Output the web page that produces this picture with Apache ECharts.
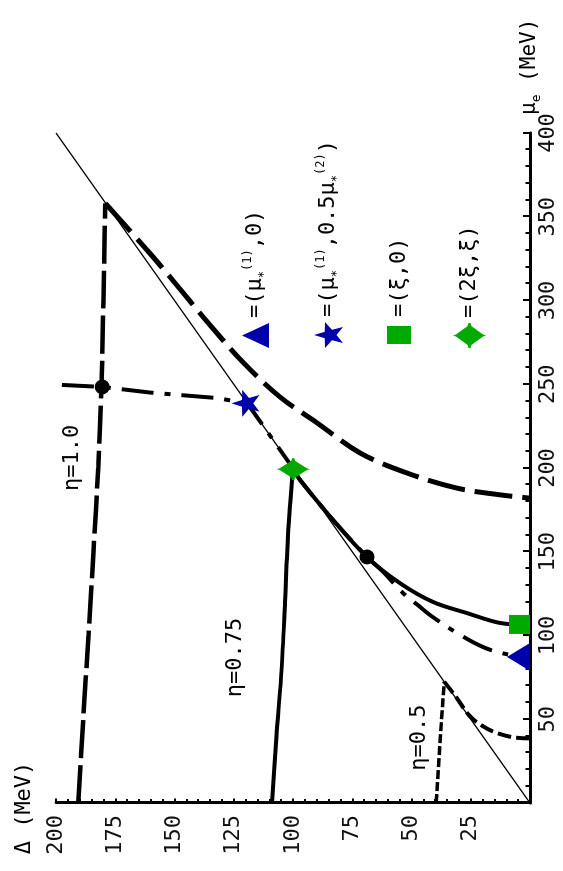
<!DOCTYPE html>
<html>
<head>
<meta charset="utf-8">
<script src="https://cdn.jsdelivr.net/npm/echarts/dist/echarts.min.js"></script>
<style>
html,body{margin:0;padding:0;background:#fff;overflow:hidden;width:563px;height:871px;}
#wrap{position:absolute;left:0;top:0;width:871px;height:563px;transform-origin:0 0;transform:translate(0px,871px) rotate(-90deg);}
</style>
</head>
<body>
<div id="wrap"></div>
<script>
// ---- data (x = mu_e in MeV, y = Delta in MeV) ----
const diagonal = [[0,0],[400,200]];
const eta10Flat = [[0,190.6],[50,188.5],[100,186.3],[150,184.2],[200,182.2],[250,180.8],[300,180],[358,179.2]];
const eta10Curve = [[358,179.2],[330,161.5],[310,149.5],[287,136],[263,121],[242.4,105.5],[227,89.9],[209,71.7],[197,51.9],[188,30.8],[184,12.7],[182,0]];
const eta075Flat = [[0,108.9],[40,107],[80,104.8],[120,103.4],[160,102.1],[199.3,100]];
const eta075Curve = [[199.3,100],[192.8,97],[169,83.1],[146.9,68.8],[131.3,54.9],[120,40.9],[113.4,26.6],[107.5,12.7],[106.3,0]];
const dashDotStraight = [[249.6,197.5],[248.4,180.5],[245,160],[241.8,132.3],[238.6,119.3],[199.3,99.7]];
const dashDotCurve = [[199.3,99.7],[192.8,97],[169,83.1],[146.9,68.8],[138,62],[125.4,53.6],[118,47.2],[111,41],[101.5,30.8],[93.1,19.8],[89.2,11],[86.6,0]];
const eta05Flat = [[0,39.6],[36,38],[72.4,36.2]];
const eta05Curve = [[72.4,36.2],[63.5,31.3],[52.5,25.8],[47.6,21.8],[42.6,15.5],[39.2,7],[38.6,0]];
const triPts = [[87.2,0]];
const starPts = [[238.6,120]];
const squarePts = [[106.6,0]];
const diamondPts = [[199.3,99.9]];
const dotPts = [[248.4,180.5],[146.9,68.8]];
const muAxisRange = [0,400];
const deltaAxisRange = [0,200];
const legendNames = ['tri','star','square','diamond'];
const legendLabels = {
  tri: '{n|=(μ}{sub|*}{sup|(1)}{n|,0)}',
  star: '{n|=(μ}{sub|*}{sup|(1)}{n|,0.5μ}{sub|*}{sup|(2)}{n|)}',
  square: '{n|=(ξ,0)}',
  diamond: '{n|=(2ξ,ξ)}'
};
const etaLabels = ['η=1.0','η=0.75','η=0.5'];

// ---- chart ----
const FONT = 'DejaVu Sans Mono';
const BLUE = '#0000AA', GREEN = '#00AA00';
const STAR = 'path://M0,-10L2.35,-3.24L9.51,-3.09L3.8,1.24L5.88,8.09L0,4L-5.88,8.09L-3.8,1.24L-9.51,-3.09L-2.35,-3.24Z';
const DIAM = 'path://M12,0L13,3L21,14L24,15L24,17L21,18L13,29L12,32L11,29L3,18L0,17L0,15L3,14L11,3Z';
const SQR = 'path://M0,0H18V24H0Z';
const chart = echarts.init(document.getElementById('wrap'), null, {renderer:'canvas', width:871, height:563});

function lineS(data, width, type, smooth){
  return {type:'line', data:data, showSymbol:false, symbol:'none', smooth:smooth||false, silent:true,
    lineStyle:{color:'#000', width:width, type:type, cap:'butt', opacity:1}, z:3};
}
const richText = {
  n:{fontFamily:FONT, fontSize:22, color:'#000', lineHeight:28},
  sup:{fontFamily:FONT, fontSize:12, color:'#000', verticalAlign:'top', lineHeight:28},
  sub:{fontFamily:FONT, fontSize:12, color:'#000', verticalAlign:'bottom', lineHeight:28}
};
function legendFor(name, left, top, w, h, pad){
  return {show:true, orient:'vertical', left:left, top:top, itemWidth:w, itemHeight:h, padding:0,
    symbolKeepAspect:false, selectedMode:false, data:[name],
    itemStyle:{opacity:1},
    formatter: n => legendLabels[n],
    textStyle:{fontFamily:FONT, fontSize:22, color:'#000', padding:[0,0,0,pad||0], rich:richText}};
}

const option = {
  animation:false,
  backgroundColor:'#fff',
  grid:{left:68, right:133, top:56, bottom:33, outerBoundsMode:'none', containLabel:false},
  xAxis:{type:'value', min:muAxisRange[0], max:muAxisRange[1], interval:50,
    axisLine:{show:true, onZero:false, lineStyle:{color:'#000', width:3}},
    axisTick:{show:true, inside:true, length:7, lineStyle:{color:'#000', width:2}},
    minorTick:{show:true, splitNumber:5, length:4.5, lineStyle:{color:'#000', width:2}},
    splitLine:{show:false}, minorSplitLine:{show:false},
    axisLabel:{showMinLabel:false, color:'#111', fontFamily:FONT, fontSize:22, margin:7}},
  yAxis:{type:'value', min:deltaAxisRange[0], max:deltaAxisRange[1], interval:25,
    axisLine:{show:true, onZero:false, lineStyle:{color:'#000', width:3}},
    axisTick:{show:true, inside:true, length:4.5, lineStyle:{color:'#000', width:2}},
    minorTick:{show:true, splitNumber:5, length:4, lineStyle:{color:'#000', width:2}},
    splitLine:{show:false}, minorSplitLine:{show:false},
    axisLabel:{showMinLabel:false, color:'#111', fontFamily:FONT, fontSize:22, margin:12}},
  legend:[
    legendFor('tri', 523, 241.5, 25, 27),
    legendFor('star', 523, 314, 26, 29),
    legendFor('square', 527, 387, 18, 24, 4),
    legendFor('diamond', 523, 453, 25, 33)
  ],
  series:[
    Object.assign(lineS(diagonal, 1.5, 'solid'), {z:2}),
    lineS(eta10Flat, 4.5, [38,7], 0.3),
    lineS(eta10Curve, 5, [38,10], 0.35),
    lineS(eta075Flat, 4, 'solid', 0.3),
    lineS(eta075Curve, 4, 'solid', 0.35),
    lineS(dashDotStraight, 4, [32,11,6,11]),
    lineS(dashDotCurve, 4, [32,11,6,11], 0.35),
    lineS(eta05Flat, 3.5, [9,3]),
    lineS(eta05Curve, 4, [14,5], 0.35),
    {type:'scatter', name:'dots', data:dotPts, symbol:'circle', symbolSize:15, clip:false,
      itemStyle:{color:'#000', opacity:1}, z:5, silent:true},
    {type:'scatter', name:'tri', data:triPts.map(p=>({value:p, symbolOffset:[0,-11.5]})), symbol:'triangle', symbolSize:[28,23], clip:false,
      itemStyle:{color:BLUE, opacity:1}, z:6, silent:true},
    {type:'scatter', name:'star', data:starPts, symbol:STAR, symbolSize:[27,28], clip:false,
      itemStyle:{color:BLUE, opacity:1}, z:6, silent:true},
    {type:'scatter', name:'square', data:squarePts.map(p=>({value:p, symbolOffset:[0,-10.5]})), symbol:SQR, symbolSize:[19,21], clip:false,
      itemStyle:{color:GREEN, opacity:1}, z:6, silent:true},
    {type:'scatter', name:'diamond', data:diamondPts, symbol:DIAM, symbolSize:[22,33], clip:false,
      itemStyle:{color:GREEN, opacity:1}, z:6, silent:true}
  ]
};
chart.setOption(option);

const px = p => chart.convertToPixel({gridIndex:0}, p);
const etaAnchors = [[206,193],[86.9,124.5],[39,46.6]];
const g = etaLabels.map((t,i)=>{
  const q = px(etaAnchors[i]);
  return {type:'text', x:q[0], y:q[1], z:10, silent:true,
    style:{text:t, font:'22px "'+FONT+'"', fill:'#000', textAlign:'center', textVerticalAlign:'middle', align:'center', verticalAlign:'middle'}};
});
const xEnd = px([muAxisRange[1], deltaAxisRange[0]]);
g.push({type:'text', x:xEnd[0]+18, y:xEnd[1], z:10, silent:true,
  style:{text:'{n|μ}{s|e}{n| (MeV)}', fill:'#000', textAlign:'left', textVerticalAlign:'middle', align:'left', verticalAlign:'middle',
    rich:{n:{fontFamily:FONT, fontSize:21, lineHeight:26}, s:{fontFamily:FONT, fontSize:13, verticalAlign:'bottom', lineHeight:26}}}});
const yEnd = px([muAxisRange[0], deltaAxisRange[1]]);
g.push({type:'text', x:yEnd[0]-5, y:yEnd[1]-32, z:10, silent:true,
  style:{text:'Δ (MeV)', font:'22px "'+FONT+'"', fill:'#000', textAlign:'center', textVerticalAlign:'middle', align:'center', verticalAlign:'middle'}});
chart.setOption({graphic:g});
</script>
</body>
</html>
